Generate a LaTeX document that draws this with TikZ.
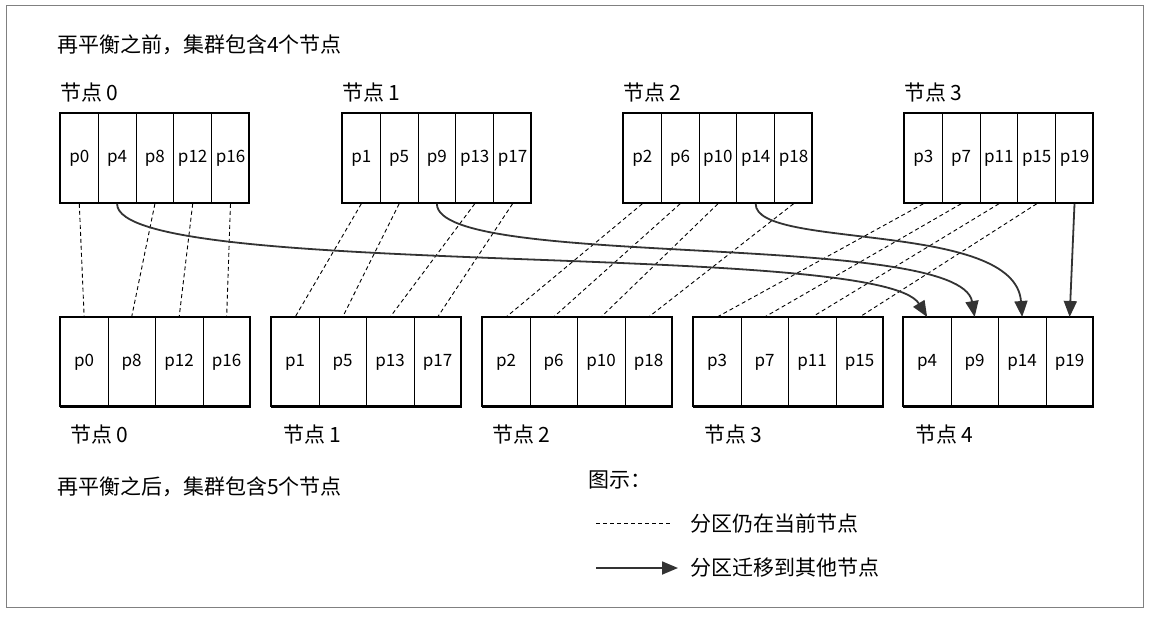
\documentclass[tikz,border=0pt]{standalone}
\usepackage{fontspec}
\setmainfont{Noto Sans CJK SC}
\usetikzlibrary{arrows.meta}
\begin{document}
\begin{tikzpicture}[x=1pt,y=-1pt,
  cell/.style={draw,line width=0.8pt,minimum height=90pt,inner sep=0pt,font=\fontsize{17}{17}\selectfont,anchor=north west},
  lbl/.style={font=\fontsize{21}{21}\selectfont,anchor=west,inner sep=0pt},
  keep/.style={dashed,line width=0.9pt,dash pattern=on 4pt off 3pt},
  move/.style={line width=1.8pt,draw=black!80,-{Triangle[length=16pt,width=13pt]}}]
\useasboundingbox (0,0) rectangle (1162,616);
\draw[line width=1pt,gray] (6,5) rectangle (1143,607);
\node[lbl] (t1) at (57,45) {再平衡之前，集群包含4个节点};
\node[lbl] (t2) at (57,487) {再平衡之后，集群包含5个节点};
% top nodes
\foreach \n/\x/\a/\b/\c/\d/\e in {0/60/p0/p4/p8/p12/p16, 1/342/p1/p5/p9/p13/p17, 2/623/p2/p6/p10/p14/p18, 3/904/p3/p7/p11/p15/p19}{
  \node[lbl] (tl\n) at (\x,93) {节点 \n};
  \foreach \t [count=\i from 0] in {\a,\b,\c,\d,\e}{
    \node[cell,minimum width=37.8pt] (T\t) at ({\x+37.8*\i},113) {\t};
  }
  \draw[line width=1.6pt] (\x,113) rectangle ({\x+189},203);
}
% bottom nodes
\foreach \n/\x/\lx/\a/\b/\c/\d in {0/60/70/p0/p8/p12/p16, 1/271/283/p1/p5/p13/p17, 2/482/492/p2/p6/p10/p18, 3/693/704/p3/p7/p11/p15, 4/903/915/p4/p9/p14/p19}{
  \node[lbl] (bl\n) at (\lx,435) {节点 \n};
  \foreach \t [count=\i from 0] in {\a,\b,\c,\d}{
    \node[cell,minimum width=47.5pt] (B\t) at ({\x+47.5*\i},317) {\t};
  }
  \draw[line width=1.6pt] (\x,317) rectangle ({\x+190},406);
}
\foreach \t in {p0,p8,p12,p16,p1,p5,p13,p17,p2,p6,p10,p18,p3,p7,p11,p15}{
  \draw[keep] (T\t.south) -- (B\t.north);
}
\draw[move] (Tp4.south) .. controls (117,280) and (880,240) .. (Bp4.north);
\draw[move] (Tp9.south) .. controls (437,270) and (960,230) .. (Bp9.north);
\draw[move] (Tp14.south) .. controls (755,250) and (1015,220) .. (Bp14.north);
\draw[move] (Tp19.south) -- (Bp19.north);
% legend
\node[lbl] (lg) at (588,480) {图示：};
\coordinate (d1) at (596,523); \coordinate (d2) at (670,523);
\draw[keep] (d1) -- (d2);
\node[lbl] (lg1) at (690,523) {分区仍在当前节点};
\coordinate (a1) at (596,568); \coordinate (a2) at (678,568);
\draw[move] (a1) -- (a2);
\node[lbl] (lg2) at (690,568) {分区迁移到其他节点};
\end{tikzpicture}
\end{document}
